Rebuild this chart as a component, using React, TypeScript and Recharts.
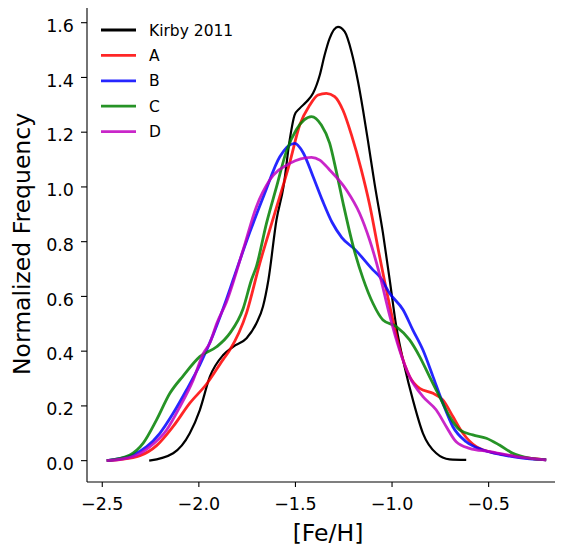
import { LineChart, Line, XAxis, YAxis, Legend, Label } from "recharts"

// [Fe/H], normalized frequency
const kirby = [
  [-2.257, 0], [-2.133, 0.027], [-2.047, 0.1], [-1.995, 0.185], [-1.943, 0.307],
  [-1.874, 0.386], [-1.823, 0.416], [-1.753, 0.447], [-1.702, 0.502], [-1.668, 0.563],
  [-1.64, 0.66], [-1.598, 0.88], [-1.562, 1.0], [-1.53, 1.17], [-1.504, 1.263],
  [-1.478, 1.287], [-1.443, 1.311], [-1.409, 1.342], [-1.374, 1.409], [-1.349, 1.482],
  [-1.323, 1.543], [-1.28, 1.585], [-1.245, 1.567], [-1.21, 1.494], [-1.176, 1.384],
  [-1.15, 1.28], [-1.125, 1.17], [-1.09, 1.01], [-1.047, 0.831], [-1.012, 0.66],
  [-0.978, 0.49], [-0.935, 0.343], [-0.892, 0.222], [-0.84, 0.1], [-0.771, 0.027],
  [-0.702, 0.005], [-0.616, 0.003],
]

const seriesA = [
  [-2.477, 0], [-2.408, 0.004], [-2.305, 0.018], [-2.219, 0.055], [-2.133, 0.125],
  [-2.047, 0.21], [-1.96, 0.28], [-1.874, 0.37], [-1.84, 0.404], [-1.753, 0.54],
  [-1.685, 0.72], [-1.607, 0.904], [-1.529, 1.09], [-1.478, 1.226], [-1.426, 1.299],
  [-1.383, 1.336], [-1.34, 1.342], [-1.297, 1.33], [-1.254, 1.28], [-1.21, 1.19],
  [-1.16, 1.065], [-1.116, 0.935], [-1.064, 0.745], [-1.004, 0.54], [-0.961, 0.41],
  [-0.909, 0.307], [-0.857, 0.264], [-0.788, 0.246], [-0.737, 0.222], [-0.685, 0.161],
  [-0.633, 0.1], [-0.564, 0.051], [-0.461, 0.027], [-0.357, 0.015], [-0.202, 0.003],
]

const seriesB = [
  [-2.477, 0], [-2.34, 0.021], [-2.27, 0.051], [-2.202, 0.1], [-2.133, 0.173],
  [-2.064, 0.258], [-1.995, 0.35], [-1.926, 0.46], [-1.857, 0.59], [-1.823, 0.66],
  [-1.736, 0.835], [-1.66, 0.975], [-1.581, 1.11], [-1.504, 1.159], [-1.46, 1.125],
  [-1.41, 1.04], [-1.36, 0.95], [-1.31, 0.87], [-1.26, 0.815], [-1.19, 0.77],
  [-1.099, 0.697], [-1.064, 0.672], [-1.012, 0.611], [-0.943, 0.551], [-0.892, 0.477],
  [-0.84, 0.404], [-0.788, 0.307], [-0.737, 0.21], [-0.685, 0.124], [-0.616, 0.069],
  [-0.53, 0.039], [-0.427, 0.021], [-0.323, 0.009], [-0.202, 0.003],
]

const seriesC = [
  [-2.477, 0], [-2.357, 0.021], [-2.288, 0.064], [-2.219, 0.149], [-2.15, 0.246],
  [-2.081, 0.31], [-1.995, 0.38], [-1.908, 0.416], [-1.84, 0.465], [-1.771, 0.555],
  [-1.728, 0.66], [-1.702, 0.71], [-1.65, 0.867], [-1.598, 1.0], [-1.547, 1.13],
  [-1.495, 1.21], [-1.455, 1.245], [-1.417, 1.257], [-1.366, 1.226], [-1.323, 1.16],
  [-1.288, 1.055], [-1.25, 0.93], [-1.2, 0.78], [-1.15, 0.665],
  [-1.099, 0.575], [-1.047, 0.514], [-0.978, 0.49], [-0.909, 0.441], [-0.857, 0.38],
  [-0.806, 0.307], [-0.754, 0.234], [-0.702, 0.161], [-0.65, 0.112], [-0.582, 0.094],
  [-0.512, 0.082], [-0.444, 0.057], [-0.375, 0.027], [-0.288, 0.009], [-0.202, 0.003],
]

const seriesD = [
  [-2.477, 0], [-2.34, 0.015], [-2.253, 0.051], [-2.167, 0.112], [-2.098, 0.197],
  [-2.029, 0.295], [-1.978, 0.39], [-1.943, 0.43], [-1.908, 0.5], [-1.857, 0.58],
  [-1.771, 0.77], [-1.702, 0.928], [-1.633, 1.025], [-1.529, 1.086], [-1.417, 1.108],
  [-1.374, 1.098], [-1.323, 1.062], [-1.236, 0.989], [-1.168, 0.904], [-1.116, 0.806],
  [-1.064, 0.68], [-1.012, 0.53], [-0.961, 0.404], [-0.909, 0.307], [-0.84, 0.234],
  [-0.771, 0.185], [-0.719, 0.124], [-0.668, 0.069], [-0.599, 0.045], [-0.495, 0.033],
  [-0.357, 0.015], [-0.202, 0.003],
]

const seriesNames = ["Kirby 2011", "A", "B", "C", "D"]
const xTicks = [-2.5, -2.0, -1.5, -1.0, -0.5]
const yTicks = [0, 0.2, 0.4, 0.6, 0.8, 1.0, 1.2, 1.4, 1.6]

const colors = ["#000000", "#ff0000", "#0000ff", "#008000", "#bf00bf"]
const font = "'DejaVu Sans', sans-serif"

const toPoints = (arr: number[][]) => arr.map(([x, y]) => ({ x, y }))
const allSeries = [kirby, seriesA, seriesB, seriesC, seriesD].map(toPoints)

const fmt = (v: number) => v.toFixed(1).replace("-", "\u2212")

function LegendBox() {
  return (
    <svg width={260} height={150} style={{ overflow: "visible" }}>
      {seriesNames.map((name, i) => {
        const y = 30 + i * 25.4
        return (
          <g key={name}>
            <line x1={101} x2={136} y1={y} y2={y} stroke={colors[i]} strokeWidth={2.8} strokeOpacity={i === 0 ? 1 : 0.85} />
            <text x={149} y={y + 5.5} fontSize={15.5} fontFamily={font} fill="#000">
              {name}
            </text>
          </g>
        )
      })}
    </svg>
  )
}

export default function App() {
  return (
    <div style={{ marginLeft: -8, marginTop: -8, width: 563, height: 549, overflow: "hidden", position: "relative" }}>
      <LineChart width={575} height={549} margin={{ top: 6, right: 6, left: 0, bottom: 0 }}>
        <XAxis
          xAxisId="top"
          orientation="top"
          type="number"
          dataKey="x"
          domain={[-2.579, -0.084]}
          height={0}
          tick={false}
          tickLine={false}
          axisLine={{ stroke: "#000", strokeWidth: 1.1 }}
        />
        <XAxis
          type="number"
          dataKey="x"
          domain={[-2.579, -0.084]}
          allowDataOverflow
          ticks={xTicks}
          tickFormatter={fmt}
          height={67}
          tickSize={5}
          tickMargin={11}
          axisLine={{ stroke: "#000", strokeWidth: 1.1 }}
          tickLine={{ stroke: "#000", strokeWidth: 1.1 }}
          tick={{ fill: "#000", fontSize: 17.5, fontFamily: font }}
        >
          <Label
            content={({ viewBox }: any) => (
              <text x={viewBox.x + viewBox.width / 2} y={541} textAnchor="middle" fontSize={23.5} fontFamily={font} fill="#000">
                [Fe/H]
              </text>
            )}
          />
        </XAxis>
        <YAxis
          type="number"
          domain={[-0.078, 1.661]}
          allowDataOverflow
          ticks={yTicks}
          tickFormatter={fmt}
          width={87}
          tickSize={6}
          tickMargin={7}
          axisLine={{ stroke: "#000", strokeWidth: 1.1 }}
          tickLine={{ stroke: "#000", strokeWidth: 1.1 }}
          tick={{ fill: "#000", fontSize: 17.5, fontFamily: font, dy: 3 }}
        >
          <Label
            content={({ viewBox }: any) => {
              const cy = viewBox.y + viewBox.height / 2
              return (
                <text transform={`translate(29.5,${cy}) rotate(-90)`} textAnchor="middle" fontSize={23.5} fontFamily={font} fill="#000">
                  Normalized Frequency
                </text>
              )
            }}
          />
        </YAxis>
        <Legend
          layout="horizontal"
          verticalAlign="middle"
          align="center"
          content={() => <LegendBox />}
          wrapperStyle={{ position: "absolute", left: 0, top: 0, width: 260, height: 150 }}
        />
        {allSeries.map((pts, i) => (
          <Line
            key={seriesNames[i]}
            data={pts}
            dataKey="y"
            name={seriesNames[i]}
            type="monotone"
            stroke={colors[i]}
            strokeOpacity={i === 0 ? 1 : 0.85}
            strokeWidth={i === 0 ? 2.2 : 2.8}
            dot={false}
            activeDot={false}
            isAnimationActive={false}
          />
        ))}
      </LineChart>
    </div>
  )
}
